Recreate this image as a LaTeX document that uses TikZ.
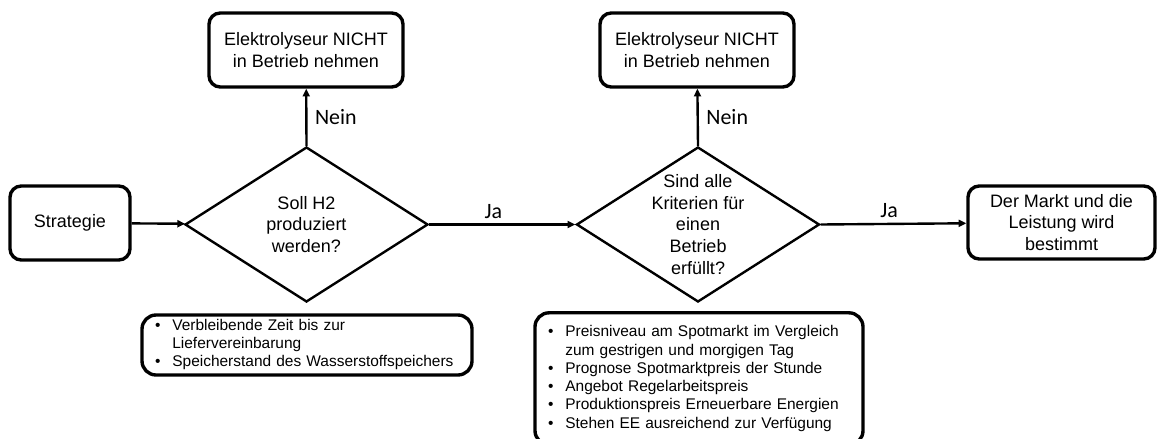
\documentclass[tikz,border=0pt]{standalone}
\usepackage{fontspec}
\setmainfont{Liberation Sans}
\newfontfamily\lblfont{Carlito}
\usetikzlibrary{shapes.geometric,arrows.meta}

\begin{document}
\begin{tikzpicture}[
    box/.style={rectangle, draw, line width=2.4pt, rounded corners=8pt, minimum height=1.85cm, align=center, font=\fontsize{12.8}{15.6}\selectfont},
    decision/.style={diamond, draw, line width=1.7pt, minimum width=6.075cm, minimum height=3.875cm, inner sep=0pt},
    dectext/.style={align=center, font=\fontsize{12.8}{15.6}\selectfont},
    listbox/.style={rectangle, draw, line width=2.4pt, rounded corners=10pt, inner xsep=0.325cm, inner ysep=0pt, align=left, font=\fontsize{11}{13}\selectfont},
    arrow/.style={-{Triangle[length=5.5pt,width=5pt]}, line width=1.7pt},
    lbl/.style={font=\lblfont\fontsize{15.6}{18}\selectfont}
]
\useasboundingbox (0,0) rectangle (28.925,-10.975);
\node[box, minimum width=3cm]      (strat) at (1.75,-5.575)     {Strategie};
\node[decision, label={[dectext]center:Soll H2\\produziert\\werden?}] (dec1) at (7.6625,-5.6125) {};
\node[box, minimum width=4.85cm]   (stop1) at (7.65,-1.25)      {Elektrolyseur NICHT\\in Betrieb nehmen};
\node[decision, label={[dectext]center:Sind alle\\Kriterien für\\einen\\Betrieb\\erfüllt?}] (dec2) at (17.45,-5.6125) {};
\node[box, minimum width=4.85cm]   (stop2) at (17.425,-1.25)    {Elektrolyseur NICHT\\in Betrieb nehmen};
\node[box, minimum width=4.675cm, minimum height=1.825cm] (market) at (26.5375,-5.5625) {Der Markt und die\\Leistung wird\\bestimmt};
\node[listbox, minimum width=8.25cm, minimum height=1.5cm, text width=7.6cm] (crit1) at (7.675,-8.625) {%
  \begin{tabular}{@{}l@{\hspace{8.5pt}}l@{}}
  \textbullet & Verbleibende Zeit bis zur\\
              & Liefervereinbarung\\
  \textbullet & Speicherstand des Wasserstoffspeichers
  \end{tabular}};
\node[listbox, minimum width=8.2cm, minimum height=3.3cm, text width=7.55cm] (crit2) at (17.475,-9.47) {%
  \begin{tabular}{@{}l@{\hspace{8.5pt}}l@{}}
  \textbullet & Preisniveau am Spotmarkt im Vergleich\\
              & zum gestrigen und morgigen Tag\\
  \textbullet & Prognose Spotmarktpreis der Stunde\\
  \textbullet & Angebot Regelarbeitspreis\\
  \textbullet & Produktionspreis Erneuerbare Energien\\
  \textbullet & Stehen EE ausreichend zur Verfügung
  \end{tabular}};
\draw[arrow] (strat) -- (dec1);
\draw[arrow] (dec1.north) -- node[lbl, right=2pt] {Nein} (stop1);
\draw[arrow] (dec1.east) -- node[lbl, above, pos=0.44] {Ja} (dec2.west);
\draw[arrow] (dec2.north) -- node[lbl, right=2pt] {Nein} (stop2);
\draw[arrow] (dec2.east) -- node[lbl, above, pos=0.47] {Ja} (market);
\end{tikzpicture}
\end{document}
